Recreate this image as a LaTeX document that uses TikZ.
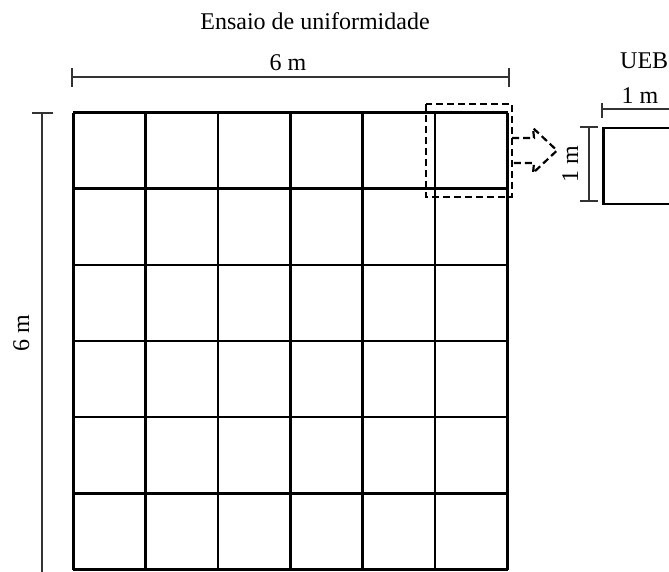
\documentclass[tikz,border=0pt]{standalone}
\usepackage{fontspec}
\setmainfont{Liberation Serif}
\begin{document}
\begin{tikzpicture}[x=1pt,y=-1pt,
  lbl/.style={inner sep=0pt,anchor=base,font=\fontsize{24}{28}\selectfont},
  gridline/.style={line width=2.6pt,black},
  dimline/.style={line width=1.2pt,black!80},
  dashbox/.style={line width=2.2pt,dash pattern=on 7pt off 4pt,black},
  cell/.style={draw,line width=2.6pt,minimum width=72.4pt,minimum height=76.2pt,inner sep=0pt}
]
\useasboundingbox (0,0) rectangle (669,571);
\clip (0,0) rectangle (669,571);
% title
\node[lbl] (title) at (315,29) {Ensaio de uniformidade};
% grid
\foreach \i in {0,...,6}{
  \draw[gridline] ({73.3+72.37*\i},112.5) -- ({73.3+72.37*\i},569.5);
  \draw[gridline] (73.3,{112.5+76.17*\i}) -- (507.5,{112.5+76.17*\i});
}
% horizontal dimension
\coordinate (hL) at (72,77);
\coordinate (hR) at (509,77);
\draw[dimline] (hL) -- (hR);
\draw[dimline] (72,68) -- (72,87);
\draw[dimline] (509,68) -- (509,87);
\node[lbl] (h6) at (288,70) {6 m};
% vertical dimension
\coordinate (vT) at (42,113);
\coordinate (vB) at (42,575);
\draw[dimline] (vT) -- (vB);
\draw[dimline] (32,113) -- (53,113);
\node[lbl,rotate=90] (v6) at (29,333) {6 m};
% dashed highlight
\draw[dashbox] (426,104) rectangle (512,197);
\draw[dashbox] (512,138) -- (534,138) -- (533,128) -- (557,150.5) -- (533,173) -- (534,163) -- (512,163);
% UEB
\node[lbl,anchor=base west] (ueb) at (620,68) {UEB};
\node[cell,anchor=north west] (box) at (602,126.5) {};
\draw[dimline] (602,109) -- (680,109);
\draw[dimline] (602,103) -- (602,118);
\node[lbl] (h1) at (640,103) {1 m};
\draw[dimline] (589,127) -- (589,201);
\draw[dimline] (580,127) -- (598,127);
\draw[dimline] (580,201) -- (598,201);
\node[lbl,rotate=90] (v1) at (578,164) {1 m};
\end{tikzpicture}
\end{document}
